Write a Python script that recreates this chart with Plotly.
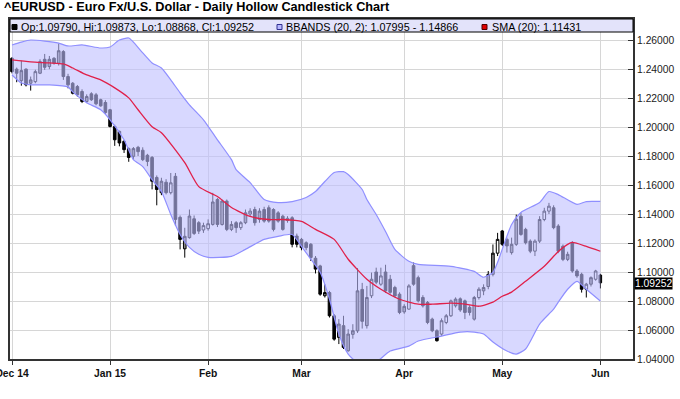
import pandas as pd
import plotly.graph_objects as go

# ---- data -------------------------------------------------------------
holidays = ["2014-12-25", "2015-01-01", "2015-04-03"]
dates = [d.strftime("%Y-%m-%d") for d in pd.bdate_range("2014-12-02", "2015-06-01")
         if d.strftime("%Y-%m-%d") not in holidays]

opens = [1.2474, 1.2399, 1.2320, 1.2399, 1.2302, 1.2313, 1.2371, 1.2467, 1.2417, 1.2474,
         1.2440, 1.2520, 1.2348, 1.2302, 1.2279, 1.2245, 1.2176, 1.2229, 1.2222, 1.2188,
         1.2169, 1.2119, 1.2004, 1.1970, 1.1901, 1.1851, 1.1798, 1.1860, 1.1840, 1.1805,
         1.1790, 1.1652, 1.1547, 1.1619, 1.1547, 1.1660, 1.1377, 1.1160, 1.1237, 1.1367,
         1.1340, 1.1290, 1.1299, 1.1328, 1.1500, 1.1328, 1.1489, 1.1294, 1.1340, 1.1306,
         1.1340, 1.1400, 1.1431, 1.1363, 1.1431, 1.1443, 1.1431, 1.1408, 1.1385, 1.1355,
         1.1374, 1.1248, 1.1225, 1.1202, 1.1191, 1.1095, 1.1042, 1.0836, 1.0858, 1.0698,
         1.0549, 1.0630, 1.0457, 1.0570, 1.0594, 1.0880, 1.0630, 1.0836, 1.1000, 1.0916,
         1.1000, 1.0950, 1.0893, 1.0847, 1.0725, 1.0744, 1.1044, 1.0961, 1.0824, 1.0790,
         1.0675, 1.0595, 1.0572, 1.0652, 1.0698, 1.0767, 1.0815, 1.0801, 1.0756, 1.0675,
         1.0824, 1.0870, 1.0900, 1.0984, 1.1130, 1.1283, 1.1225, 1.1134, 1.1191, 1.1385,
         1.1294, 1.1213, 1.1144, 1.1213, 1.1362, 1.1420, 1.1443, 1.1317, 1.1178, 1.1087,
         1.1202, 1.1007, 1.0984, 1.0881, 1.0916, 1.0950, 1.09790]
highs = [1.2482, 1.2410, 1.2458, 1.2405, 1.2348, 1.2395, 1.2467, 1.2504, 1.2490, 1.2482,
         1.2577, 1.2530, 1.2367, 1.2310, 1.2290, 1.2260, 1.2225, 1.2240, 1.2235, 1.2195,
         1.2185, 1.2125, 1.2016, 1.1975, 1.1910, 1.1860, 1.1862, 1.1870, 1.1860, 1.1815,
         1.1800, 1.1666, 1.1650, 1.1640, 1.1683, 1.1683, 1.1390, 1.1305, 1.1431, 1.1390,
         1.1351, 1.1340, 1.1363, 1.1546, 1.1510, 1.1500, 1.1500, 1.1351, 1.1351, 1.1351,
         1.1431, 1.1440, 1.1450, 1.1440, 1.1450, 1.1460, 1.1440, 1.1420, 1.1395, 1.1385,
         1.1385, 1.1265, 1.1235, 1.1212, 1.1200, 1.1110, 1.1050, 1.0916, 1.0870, 1.0710,
         1.0675, 1.0698, 1.0606, 1.0640, 1.1027, 1.0925, 1.0904, 1.0996, 1.1030, 1.1030,
         1.1050, 1.0980, 1.0905, 1.0860, 1.0778, 1.0916, 1.1065, 1.0975, 1.0840, 1.0800,
         1.0685, 1.0605, 1.0680, 1.0710, 1.0810, 1.0825, 1.0825, 1.0810, 1.0770, 1.0835,
         1.0895, 1.0915, 1.1007, 1.1190, 1.1270, 1.1290, 1.1237, 1.1237, 1.1396, 1.1408,
         1.1305, 1.1225, 1.1225, 1.1385, 1.1443, 1.1477, 1.1460, 1.1330, 1.1190, 1.1140,
         1.1213, 1.1020, 1.0995, 1.0925, 1.0970, 1.1015, 1.09873]
lows = [1.2370, 1.2309, 1.2285, 1.2280, 1.2251, 1.2302, 1.2365, 1.2394, 1.2399, 1.2430,
        1.2424, 1.2325, 1.2267, 1.2225, 1.2210, 1.2165, 1.2165, 1.2180, 1.2150, 1.2140,
        1.2090, 1.1997, 1.1870, 1.1867, 1.1821, 1.1760, 1.1775, 1.1800, 1.1765, 1.1730,
        1.1570, 1.1460, 1.1530, 1.1535, 1.1535, 1.1320, 1.1156, 1.1099, 1.1230, 1.1255,
        1.1262, 1.1270, 1.1285, 1.1320, 1.1310, 1.1320, 1.1282, 1.1282, 1.1270, 1.1290,
        1.1330, 1.1380, 1.1320, 1.1340, 1.1340, 1.1340, 1.1280, 1.1340, 1.1285, 1.1340,
        1.1170, 1.1170, 1.1150, 1.1150, 1.1076, 1.0990, 1.0836, 1.0824, 1.0686, 1.0526,
        1.0503, 1.0469, 1.0450, 1.0540, 1.0580, 1.0610, 1.0610, 1.0820, 1.0916, 1.0905,
        1.0855, 1.0850, 1.0825, 1.0709, 1.0712, 1.0740, 1.0905, 1.0790, 1.0755, 1.0640,
        1.0585, 1.0520, 1.0560, 1.0640, 1.0690, 1.0755, 1.0725, 1.0675, 1.0700, 1.0665,
        1.0810, 1.0840, 1.0881, 1.0970, 1.1110, 1.1180, 1.1134, 1.1120, 1.1180, 1.1250,
        1.1190, 1.1130, 1.1110, 1.1200, 1.1350, 1.1400, 1.1295, 1.1130, 1.1075, 1.1075,
        1.0995, 1.0960, 1.0858, 1.0824, 1.0900, 1.0940, 1.08868]
closes = [1.2382, 1.2371, 1.2389, 1.2291, 1.2325, 1.2382, 1.2451, 1.2412, 1.2467, 1.2440,
          1.2526, 1.2348, 1.2291, 1.2233, 1.2222, 1.2176, 1.2210, 1.2188, 1.2160, 1.2146,
          1.2100, 1.2004, 1.1912, 1.1890, 1.1844, 1.1790, 1.1851, 1.1830, 1.1775, 1.1763,
          1.1626, 1.1569, 1.1626, 1.1547, 1.1615, 1.1363, 1.1225, 1.1246, 1.1386, 1.1266,
          1.1282, 1.1320, 1.1333, 1.1483, 1.1328, 1.1489, 1.1294, 1.1328, 1.1306, 1.1340,
          1.1408, 1.1420, 1.1340, 1.1420, 1.1351, 1.1351, 1.1294, 1.1351, 1.1294, 1.1370,
          1.1191, 1.1191, 1.1168, 1.1168, 1.1100, 1.1020, 1.0847, 1.0858, 1.0698, 1.0537,
          1.0641, 1.0480, 1.0572, 1.0595, 1.0870, 1.0660, 1.0824, 1.0950, 1.0930, 1.0973,
          1.0870, 1.0860, 1.0835, 1.0721, 1.0763, 1.0904, 1.0916, 1.0801, 1.0767, 1.0652,
          1.0595, 1.0526, 1.0664, 1.0698, 1.0801, 1.0813, 1.0738, 1.0721, 1.0721, 1.0824,
          1.0881, 1.0893, 1.0984, 1.1130, 1.1225, 1.1191, 1.1180, 1.1191, 1.1364, 1.1259,
          1.1202, 1.1144, 1.1213, 1.1362, 1.1420, 1.1454, 1.1306, 1.1144, 1.1087, 1.1122,
          1.1007, 1.0973, 1.0881, 1.0916, 1.0961, 1.1007, 1.09252]
# candle fill style, ten candles per chunk: k = black (down), g = grey (up), w = hollow white (up)
fills = "".join(["kkgkgwgkgk", "gkkkkkgkkk", "kkkkkkgkkk", "kkgkwkkggk", "kwwgkgkgkw",
                 "gwkgkkkkkw", "kkkkkkkgkk", "gkgggkgwkw", "kkkkgwkkkk", "kkwwwgkkkg",
                 "wgggwkkggk", "kkwgwwkkkg", "kkkwgwk"])

# Bollinger band (20,2) and SMA(20) read at selected trading-day indices
upper_idx = [0, 2, 4, 7, 10, 12, 15, 19, 21, 23, 25, 26, 28, 30, 32, 34, 36, 38, 41, 44, 47, 48,
             51, 54, 57, 60, 63, 65, 67, 69, 71, 72, 75, 76, 78, 80, 82, 85, 87, 94, 99, 101,
             103, 104, 107, 109, 113, 115, 117, 121, 123, 126]
upper_val = [1.2566, 1.2586, 1.2600, 1.2593, 1.2579, 1.2559, 1.2566, 1.2545, 1.2552, 1.2600,
             1.2614, 1.2586, 1.2511, 1.2442, 1.2407, 1.2325, 1.2236, 1.2153, 1.2050, 1.1912,
             1.1775, 1.1706, 1.1617, 1.1500, 1.1479, 1.1486, 1.1514, 1.1555, 1.1624, 1.1686,
             1.1692, 1.1672, 1.1569, 1.1500, 1.1397, 1.1280, 1.1156, 1.1074, 1.1053, 1.1039,
             1.1004, 1.0964, 1.0998, 1.1067, 1.1328, 1.1411, 1.1479, 1.1555, 1.1534, 1.1466,
             1.1486, 1.14866]
lower_idx = [0, 2, 4, 8, 12, 13, 16, 19, 21, 24, 26, 28, 30, 32, 34, 36, 38, 40, 42, 47, 50,
             54, 57, 60, 62, 64, 66, 68, 70, 72, 75, 78, 81, 85, 87, 92, 96, 99, 101, 103, 106,
             108, 110, 113, 116, 117, 119, 121, 123, 126]
lower_val = [1.2359, 1.2304, 1.2291, 1.2291, 1.2277, 1.2242, 1.2167, 1.2119, 1.2050, 1.1912,
             1.1775, 1.1727, 1.1637, 1.1555, 1.1397, 1.1259, 1.1170, 1.1122, 1.1101, 1.1108,
             1.1156, 1.1225, 1.1246, 1.1259, 1.1177, 1.1088, 1.0998, 1.0812, 1.0572, 1.0434,
             1.0352, 1.0379, 1.0455, 1.0489, 1.0524, 1.0558, 1.0586, 1.0586, 1.0572, 1.0517,
             1.0455, 1.0434, 1.0469, 1.0641, 1.0744, 1.0792, 1.0881, 1.0936, 1.0881, 1.07995]
sma_idx = [0, 4, 8, 11, 13, 16, 19, 22, 25, 27, 30, 32, 37, 40, 44, 47, 51, 55, 58, 62, 65, 69,
           72, 76, 79, 83, 87, 90, 94, 97, 100, 103, 105, 107, 110, 114, 117, 119, 120, 123, 126]
sma_val = [1.2463, 1.2449, 1.2442, 1.2435, 1.2407, 1.2359, 1.2325, 1.2270, 1.2201, 1.2119,
           1.2002, 1.1961, 1.1754, 1.1589, 1.1521, 1.1445, 1.1383, 1.1362, 1.1362, 1.1349,
           1.1294, 1.1225, 1.1088, 1.0950, 1.0881, 1.0812, 1.0778, 1.0778, 1.0785, 1.0778,
           1.0764, 1.0792, 1.0833, 1.0861, 1.0936, 1.1039, 1.1142, 1.1191, 1.1204, 1.1177,
           1.11431]

tick_dates = ["2014-12-02", "2015-01-02", "2015-02-02", "2015-03-02", "2015-04-01",
              "2015-05-01", "2015-06-01"]
tick_text = ["Dec 14", "Jan 15", "Feb", "Mar", "Apr", "May", "Jun"]
y_ticks = [1.04, 1.06, 1.08, 1.10, 1.12, 1.14, 1.16, 1.18, 1.20, 1.22, 1.24, 1.26]

title = "^EURUSD - Euro Fx/U.S. Dollar - Daily Hollow Candlestick Chart"
leg_ohlc = "Op:1.09790, Hi:1.09873, Lo:1.08868, Cl:1.09252"
leg_bb = "BBANDS (20, 2): 1.07995 - 1.14866"
leg_sma = "SMA (20): 1.11431"
last_close = closes[-1]

# ---- figure -----------------------------------------------------------
FONT = "Liberation Sans, Arial, sans-serif"
fig = go.Figure()

band_line = dict(color="#8f8fff", width=1.2, shape="spline", smoothing=0.6)
fig.add_trace(go.Scatter(x=[dates[i] for i in lower_idx], y=lower_val, mode="lines",
                         line=band_line, hoverinfo="skip"))
fig.add_trace(go.Scatter(x=[dates[i] for i in upper_idx], y=upper_val, mode="lines",
                         line=band_line, fill="tonexty",
                         fillcolor="rgba(190,190,255,0.6)", hoverinfo="skip"))
fig.add_trace(go.Scatter(x=[dates[i] for i in sma_idx], y=sma_val, mode="lines",
                         line=dict(color="#e0204a", width=1.3, shape="spline", smoothing=0.6),
                         hoverinfo="skip"))


def style(i):
    if closes[i] < opens[i]:
        return "k"
    return fills[i] if i < len(fills) else "g"


def subset(keep):
    idx = [i for i in range(len(dates)) if keep(style(i))]
    return dict(x=[dates[i] for i in idx], open=[opens[i] for i in idx],
                high=[highs[i] for i in idx], low=[lows[i] for i in idx],
                close=[closes[i] for i in idx])


fig.add_trace(go.Candlestick(**subset(lambda f: f != "w"),
                             increasing=dict(fillcolor="#858585", line=dict(color="#000000", width=1)),
                             decreasing=dict(fillcolor="#000000", line=dict(color="#000000", width=1)),
                             whiskerwidth=0))
fig.add_trace(go.Candlestick(**subset(lambda f: f == "w"),
                             increasing=dict(fillcolor="#ffffff", line=dict(color="#000000", width=1)),
                             decreasing=dict(fillcolor="#000000", line=dict(color="#000000", width=1)),
                             whiskerwidth=0))

W, H = 680, 399
L, R, T, B = 10, 47, 19, 40
pw, ph = W - L - R, H - T - B


def px(xpix):
    return (xpix - L) / pw


def py(ypix):
    return 1 - (ypix - T) / ph


shapes = [
    dict(type="rect", xref="paper", yref="paper", x0=0, x1=1, y0=py(32), y1=1,
         fillcolor="#e3e3fa", line=dict(color="#000000", width=1), layer="above"),
    dict(type="rect", xref="paper", yref="paper", x0=px(12), x1=px(17), y0=py(29.5), y1=py(24.5),
         fillcolor="#000000", line=dict(color="#000000", width=1), layer="above"),
    dict(type="rect", xref="paper", yref="paper", x0=px(277), x1=px(282), y0=py(29.5), y1=py(24.5),
         fillcolor="#b8b8ff", line=dict(color="#303090", width=1), layer="above"),
    dict(type="rect", xref="paper", yref="paper", x0=px(482), x1=px(487), y0=py(29.5), y1=py(24.5),
         fillcolor="#e00000", line=dict(color="#500000", width=1), layer="above"),
]

ann = [
    dict(text="<b>" + title + "</b>", xref="paper", yref="paper", x=px(2), y=py(7.5),
         xanchor="left", yanchor="middle", showarrow=False,
         font=dict(family=FONT, size=12.7, color="#000000")),
    dict(text=leg_ohlc, xref="paper", yref="paper", x=px(19), y=py(26.5), xanchor="left",
         yanchor="middle", showarrow=False, font=dict(family=FONT, size=10.8, color="#000000")),
    dict(text=leg_bb, xref="paper", yref="paper", x=px(284), y=py(26.5), xanchor="left",
         yanchor="middle", showarrow=False, font=dict(family=FONT, size=10.8, color="#000000")),
    dict(text=leg_sma, xref="paper", yref="paper", x=px(490), y=py(26.5), xanchor="left",
         yanchor="middle", showarrow=False, font=dict(family=FONT, size=10.8, color="#000000")),
    dict(text="%.5f" % last_close, xref="paper", yref="y", x=1, y=last_close, xanchor="left",
         yanchor="middle", xshift=1, yshift=-1, showarrow=False, bgcolor="#000000",
         borderpad=0, font=dict(family=FONT, size=10.3, color="#ffffff")),
]

fig.update_layout(
    width=W, height=H, margin=dict(l=L, r=R, t=T, b=B, pad=0, autoexpand=False),
    paper_bgcolor="#ffffff", plot_bgcolor="#ffffff", showlegend=False,
    shapes=shapes, annotations=ann, boxgap=0.2,
    xaxis=dict(type="category", categoryorder="array", categoryarray=dates,
               range=[-0.43, 133.0], rangeslider=dict(visible=False), automargin=False,
               tickmode="array", tickvals=tick_dates,
               ticktext=["<b>" + t + "</b>" for t in tick_text],
               ticks="outside", ticklen=4, tickcolor="#333333",
               showline=True, linecolor="#333333", linewidth=2, mirror=True,
               showgrid=True, gridcolor="#d6d6d6", gridwidth=1,
               tickfont=dict(family=FONT, size=10.3, color="#111111")),
    yaxis=dict(side="right", range=[1.04, 1.2745], tickmode="array", tickvals=y_ticks,
               tickformat=".5f", ticks="inside", ticklen=5, tickcolor="#333333",
               automargin=False,
               showline=True, linecolor="#333333", linewidth=2, mirror=True,
               showgrid=True, gridcolor="#d6d6d6", gridwidth=1, zeroline=False,
               tickfont=dict(family=FONT, size=10.3, color="#222222")),
)

fig.write_html("out.html", config={"displayModeBar": False},
               post_script="document.body.style.margin='0px';document.body.style.padding='0px';")
